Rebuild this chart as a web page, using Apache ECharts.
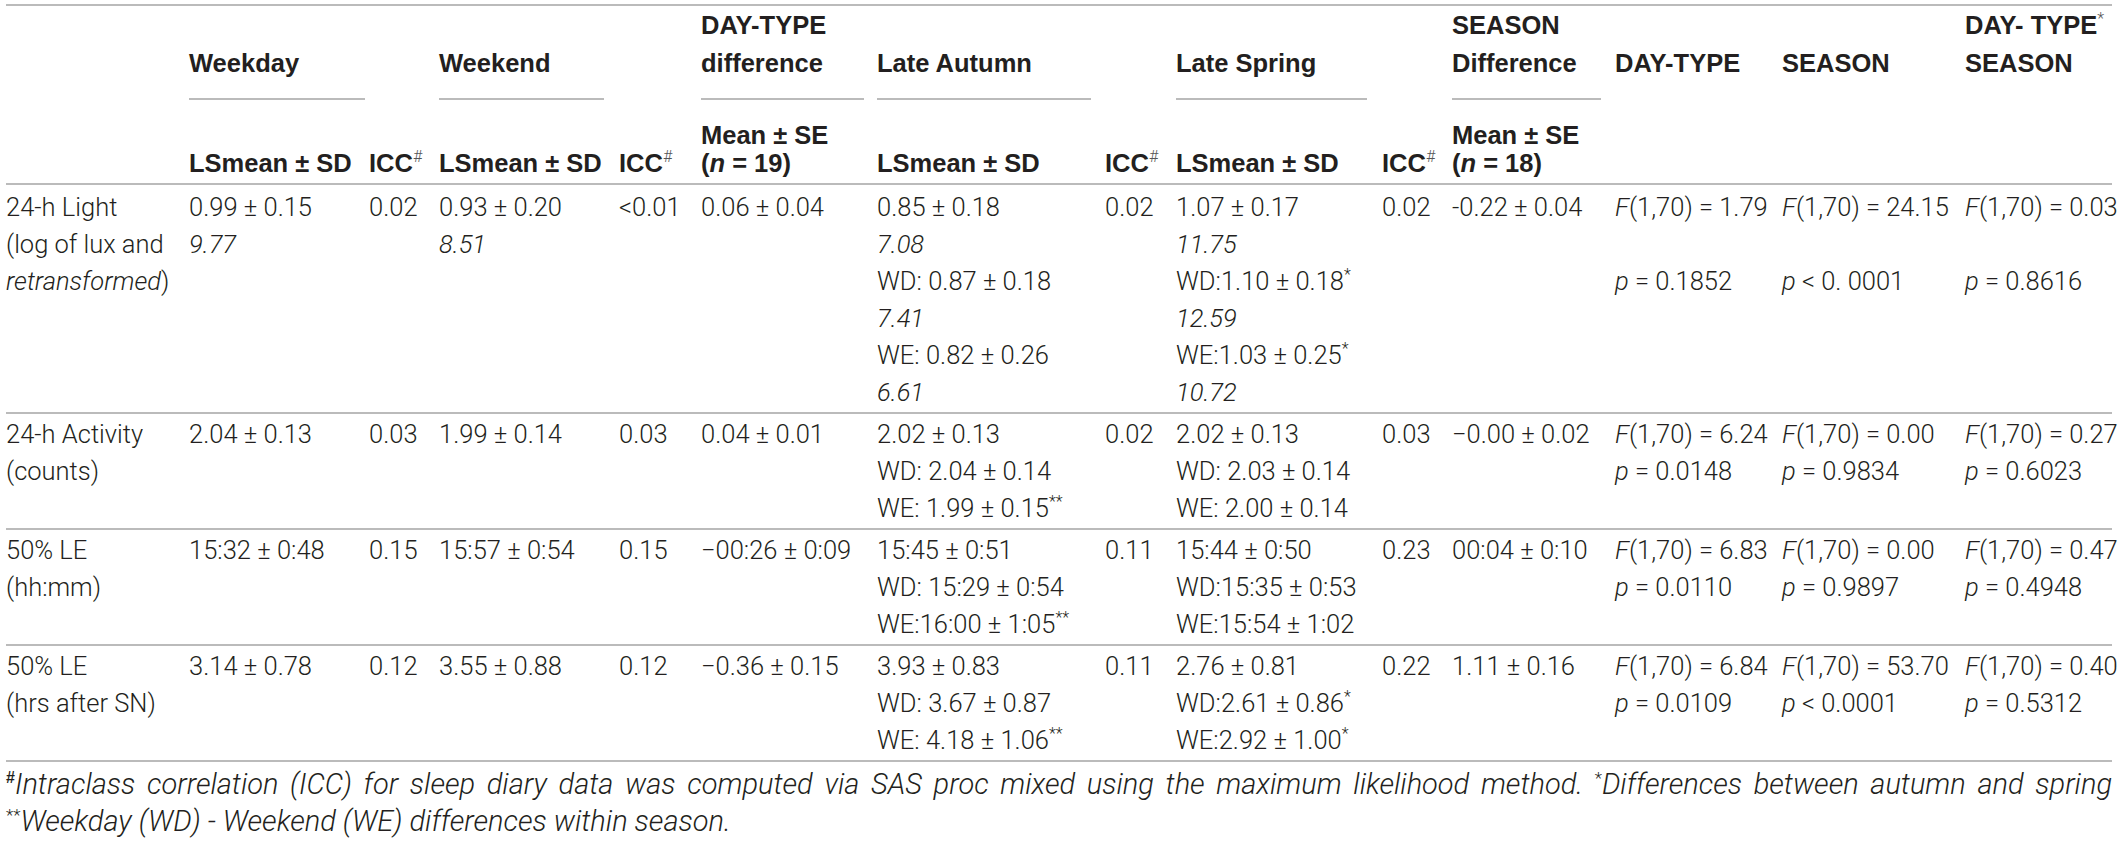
<!DOCTYPE html>
<html>
<head>
<meta charset="utf-8">
<script src="https://cdn.jsdelivr.net/npm/echarts@6/dist/echarts.min.js"></script>
<style>
  html, body { margin: 0; padding: 0; background: #fff; }
  #table { width: 2121px; height: 842px; }
</style>
</head>
<body>
<div id="table"></div>
<script>
// ---- table content ----
const rowLabels = [
  ['24-h Light', '(log of lux and', 'retransformed)'],
  ['24-h Activity', '(counts)'],
  ['50% LE', '(hh:mm)'],
  ['50% LE', '(hrs after SN)']
];
const italicWords = ['retransformed'];

const weekdayMean = ['0.99 ± 0.15', '2.04 ± 0.13', '15:32 ± 0:48', '3.14 ± 0.78'];
const weekdayLux = ['9.77', null, null, null];
const weekdayICC = ['0.02', '0.03', '0.15', '0.12'];

const weekendMean = ['0.93 ± 0.20', '1.99 ± 0.14', '15:57 ± 0:54', '3.55 ± 0.88'];
const weekendLux = ['8.51', null, null, null];
const weekendICC = ['<0.01', '0.03', '0.15', '0.12'];

const dayTypeDiff = ['0.06 ± 0.04', '0.04 ± 0.01', '−00:26 ± 0:09', '−0.36 ± 0.15'];

const autumnMean = ['0.85 ± 0.18', '2.02 ± 0.13', '15:45 ± 0:51', '3.93 ± 0.83'];
const autumnLux = ['7.08', null, null, null];
const autumnWD = ['WD: 0.87 ± 0.18', 'WD: 2.04 ± 0.14', 'WD: 15:29 ± 0:54', 'WD: 3.67 ± 0.87'];
const autumnWDMark = ['', '', '', ''];
const autumnWDLux = ['7.41', null, null, null];
const autumnWE = ['WE: 0.82 ± 0.26', 'WE: 1.99 ± 0.15', 'WE:16:00 ± 1:05', 'WE: 4.18 ± 1.06'];
const autumnWEMark = ['', '**', '**', '**'];
const autumnWELux = ['6.61', null, null, null];
const autumnICC = ['0.02', '0.02', '0.11', '0.11'];

const springMean = ['1.07 ± 0.17', '2.02 ± 0.13', '15:44 ± 0:50', '2.76 ± 0.81'];
const springLux = ['11.75', null, null, null];
const springWD = ['WD:1.10 ± 0.18', 'WD: 2.03 ± 0.14', 'WD:15:35 ± 0:53', 'WD:2.61 ± 0.86'];
const springWDMark = ['*', '', '', '*'];
const springWDLux = ['12.59', null, null, null];
const springWE = ['WE:1.03 ± 0.25', 'WE: 2.00 ± 0.14', 'WE:15:54 ± 1:02', 'WE:2.92 ± 1.00'];
const springWEMark = ['*', '', '', '*'];
const springWELux = ['10.72', null, null, null];
const springICC = ['0.02', '0.03', '0.23', '0.22'];

const seasonDiff = ['-0.22 ± 0.04', '−0.00 ± 0.02', '00:04 ± 0:10', '1.11 ± 0.16'];

const fDf = '1,70';
const dayTypeF = ['1.79', '6.24', '6.83', '6.84'];
const dayTypeP = ['= 0.1852', '= 0.0148', '= 0.0110', '= 0.0109'];
const seasonF = ['24.15', '0.00', '0.00', '53.70'];
const seasonP = ['< 0. 0001', '= 0.9834', '= 0.9897', '< 0.0001'];
const interF = ['0.03', '0.27', '0.47', '0.40'];
const interP = ['= 0.8616', '= 0.6023', '= 0.4948', '= 0.5312'];

// header lines per column
const headTop = ['', '', '', '', '', 'DAY-TYPE', '', '', '', '', 'SEASON', '', '', 'DAY- TYPE*'];
const headMid = ['', 'Weekday', '', 'Weekend', '', 'difference', 'Late Autumn', '', 'Late Spring', '', 'Difference', 'DAY-TYPE', 'SEASON', 'SEASON'];
const headSub1 = ['', '', '', '', '', 'Mean ± SE', '', '', '', '', 'Mean ± SE', '', '', ''];
const headSub2 = ['', 'LSmean ± SD', 'ICC#', 'LSmean ± SD', 'ICC#', '(n = 19)', 'LSmean ± SD', 'ICC#', 'LSmean ± SD', 'ICC#', '(n = 18)', '', '', ''];

const footnotes = [
  '#Intraclass correlation (ICC) for sleep diary data was computed via SAS proc mixed using the maximum likelihood method. *Differences between autumn and spring',
  '**Weekday (WD) - Weekend (WE) differences within season.'
];

// ---- layout ----
const W = 2121, H = 842;
const left = 6, right = 2112;
const colX = [6, 189, 369, 439, 619, 701, 877, 1105, 1176, 1382, 1452, 1615, 1782, 1965];
const underlines = [[189, 365], [439, 604], [701, 864], [877, 1091], [1176, 1367], [1452, 1601]];
const topRuleY = 5, underlineY = 99, headRuleY = 184;
const headY = { top: 25, mid: 63, sub1: 135, sub2: 163 };
const bodyStartY = 207, pitch = 37, pad = 21;
const pLineIndex = [2, 1, 1, 1];

const INK = '#231f20';
const RULE = '#a4a4a4';
const BODY_FONT = 'Roboto';
const HEAD_FONT = '"Liberation Sans", Arial, sans-serif';

function tok(size, weight, style, family, extra) {
  return Object.assign({ fontSize: size, fontWeight: weight, fontStyle: style, fontFamily: family, fill: INK }, extra || {});
}
const BASE = {
  body: tok(25.5, 300, 'normal', BODY_FONT, { lineHeight: 30 }),
  head: tok(25.5, 'bold', 'normal', HEAD_FONT, { lineHeight: 30 }),
  foot: tok(29, 300, 'italic', BODY_FONT, { lineHeight: 30 })
};
const RICH = {
  body: {
    i: tok(25.5, 300, 'italic', BODY_FONT, { lineHeight: 30 }),
    sup: tok(16, 300, 'normal', BODY_FONT, { lineHeight: 16, verticalAlign: 'top' })
  },
  head: {
    bi: tok(25.5, 'bold', 'italic', HEAD_FONT, { lineHeight: 30 }),
    sup: tok(16, 300, 'normal', BODY_FONT, { lineHeight: 16, verticalAlign: 'top', fill: '#555' })
  },
  foot: {
    fsup: tok(16, 'bold', 'normal', HEAD_FONT, { lineHeight: 16, verticalAlign: 'top' }),
    sup: tok(17, 300, 'normal', BODY_FONT, { lineHeight: 16, verticalAlign: 'top' })
  }
};

const ital = s => s ? '{i|' + s + '}' : null;
const sup = m => m ? '{sup|' + m + '}' : '';
const supTail = s => s.replace(/([#*]+)$/, '{sup|$1}');

// ---- build cells ----
const cells = [];
const rules = [];

rules.push([left, topRuleY, right, topRuleY]);
underlines.forEach(u => rules.push([u[0], underlineY, u[1], underlineY]));
rules.push([left, headRuleY, right, headRuleY]);

colX.forEach((x, c) => {
  [['top', headTop], ['mid', headMid], ['sub1', headSub1], ['sub2', headSub2]].forEach(([key, arr]) => {
    let s = arr[c];
    if (!s) return;
    s = supTail(s).replace(/^\(n =/, '({bi|n} =');
    cells.push({ kind: 'head', x: x, y: headY[key], text: s });
  });
});

function rowColumns(r) {
  const fCol = (f, p) => {
    const lines = ['{i|F}(' + fDf + ') = ' + f];
    while (lines.length < pLineIndex[r]) lines.push('');
    lines.push('{i|p} ' + p);
    return lines;
  };
  return [
    rowLabels[r].map(s => italicWords.reduce((t, w) => t.replace(w, '{i|' + w + '}'), s)),
    [weekdayMean[r], ital(weekdayLux[r])],
    [weekdayICC[r]],
    [weekendMean[r], ital(weekendLux[r])],
    [weekendICC[r]],
    [dayTypeDiff[r]],
    [autumnMean[r], ital(autumnLux[r]), autumnWD[r] + sup(autumnWDMark[r]), ital(autumnWDLux[r]),
      autumnWE[r] + sup(autumnWEMark[r]), ital(autumnWELux[r])],
    [autumnICC[r]],
    [springMean[r], ital(springLux[r]), springWD[r] + sup(springWDMark[r]), ital(springWDLux[r]),
      springWE[r] + sup(springWEMark[r]), ital(springWELux[r])],
    [springICC[r]],
    [seasonDiff[r]],
    fCol(dayTypeF[r], dayTypeP[r]),
    fCol(seasonF[r], seasonP[r]),
    fCol(interF[r], interP[r])
  ].map(col => col.filter(s => s !== null && s !== undefined));
}

let y0 = bodyStartY;
rowLabels.forEach((_, r) => {
  const cols = rowColumns(r);
  const n = Math.max(...cols.map(c => c.length));
  cols.forEach((lines, c) => {
    lines.forEach((s, k) => {
      if (s) cells.push({ kind: 'body', x: colX[c], y: y0 + k * pitch, text: s });
    });
  });
  const ruleY = y0 + (n - 1) * pitch + pad;
  rules.push([left, ruleY, right, ruleY]);
  y0 = ruleY + pad;
});

// footnotes: first line justified over table width, last line left aligned
const measure = document.createElement('canvas').getContext('2d');
function widthOf(str, st) {
  measure.font = [st.fontStyle, st.fontWeight, st.fontSize + 'px', st.fontFamily].join(' ');
  return measure.measureText(str).width;
}
function footWord(w) {
  const m = w.match(/^([#*]+)(.*)$/);
  if (!m) return { text: w, width: widthOf(w, BASE.foot) };
  const key = m[1] === '#' ? 'fsup' : 'sup';
  return { text: '{' + key + '|' + m[1] + '}' + m[2], width: widthOf(m[1], RICH.foot[key]) + widthOf(m[2], BASE.foot) };
}
const footY = y0 + 2;
const words = footnotes[0].split(' ').map(footWord);
const total = words.reduce((a, w) => a + w.width, 0);
const gap = (right - left - total) / (words.length - 1);
let fx = left;
words.forEach(w => {
  cells.push({ kind: 'foot', x: fx, y: footY, text: w.text });
  fx += w.width + gap;
});
cells.push({ kind: 'foot', x: left, y: footY + pitch, text: footWord(footnotes[1].split(' ')[0]).text + footnotes[1].slice(footnotes[1].indexOf(' ')) });

// ---- chart ----
const chart = echarts.init(document.getElementById('table'), null, { renderer: 'svg' });

chart.setOption({
  backgroundColor: '#fff',
  animation: false,
  grid: { left: 0, right: 0, top: 0, bottom: 0 },
  xAxis: { type: 'value', min: 0, max: W, show: false },
  yAxis: { type: 'value', min: 0, max: H, inverse: true, show: false },
  series: [
    {
      type: 'custom',
      name: 'rules',
      silent: true,
      clip: false,
      data: rules,
      encode: { x: [0, 2], y: [1, 3] },
      renderItem: function(params, api) {
        const a = api.coord([api.value(0), api.value(1)]);
        const b = api.coord([api.value(2), api.value(3)]);
        return {
          type: 'line',
          shape: { x1: a[0], y1: a[1], x2: b[0], y2: b[1] },
          style: { stroke: RULE, lineWidth: 1.5 }
        };
      }
    },
    {
      type: 'custom',
      name: 'cells',
      silent: true,
      clip: false,
      data: cells.map(c => [c.x, c.y]),
      encode: { x: 0, y: 1 },
      renderItem: function(params, api) {
        const c = cells[params.dataIndex];
        const p = api.coord([api.value(0), api.value(1)]);
        return {
          type: 'text',
          x: p[0],
          y: p[1],
          style: Object.assign({}, BASE[c.kind], {
            text: c.text,
            align: 'left',
            verticalAlign: 'middle',
            rich: RICH[c.kind]
          })
        };
      }
    }
  ]
});
</script>
</body>
</html>
